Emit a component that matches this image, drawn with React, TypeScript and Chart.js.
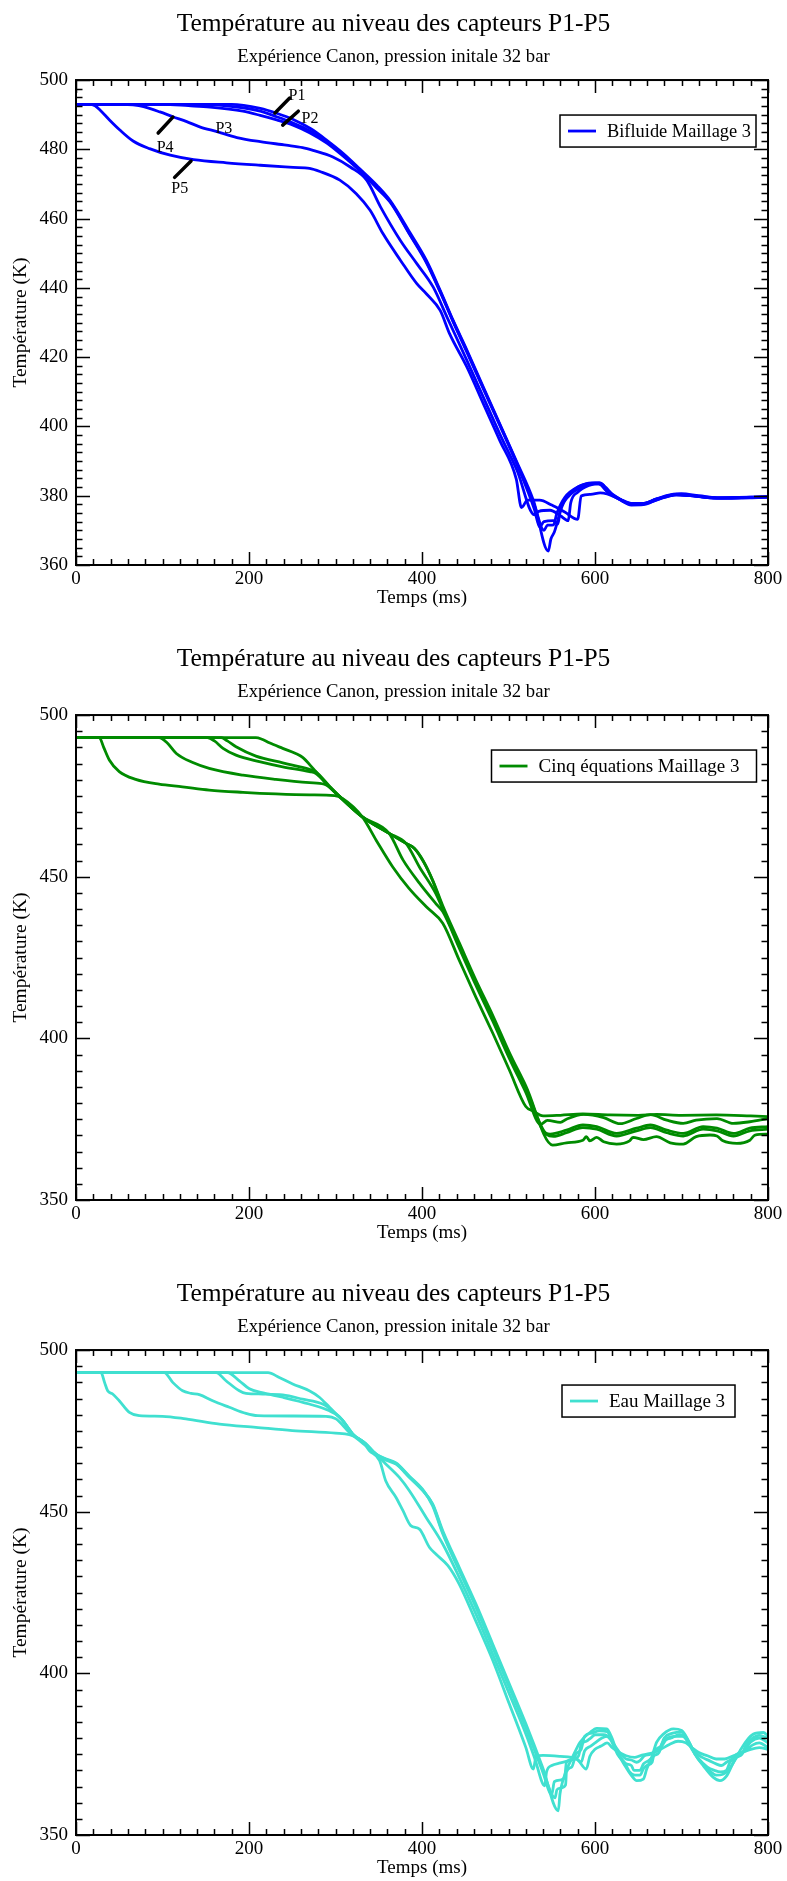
import React, { useEffect, useRef } from 'react';
import { Chart, registerables } from 'chart.js';

Chart.register(...registerables);

type Pt = [number, number];

const FONT = "'Liberation Serif', 'Times New Roman', Times, serif";

const TITLE = 'Température au niveau des capteurs P1-P5';
const SUBTITLE = 'Expérience Canon, pression initale 32 bar';
const X_TITLE = 'Temps (ms)';
const Y_TITLE = 'Température (K)';
const SENSOR_LABELS = ['P1', 'P2', 'P3', 'P4', 'P5'];

// ---------- Chart 1 : Bifluide Maillage 3 ----------
const bifP1: Pt[] = [[0,493],[180,493],[213,491.8],[232,490.4],[251,488.6],[271,486],[290,482.6],[309,478.8],[328,474.4],[348,469.6],[363,465.3],[386,456],[405,448],[421,439.3],[436,430.6],[452,422],[471,411.3],[490,400.7],[509,390.1],[529,378.5],[546,364],[549,367.5],[553,369.5],[562,377],[575,381.5],[590,383.5],[605,383.8],[612,382.5],[620,380.5],[635,378.2],[650,377.5],[662,378],[680,379.5],[700,380.6],[720,380],[750,379.3],[780,379.6],[800,379.7]];
const bifP2: Pt[] = [[0,493],[140,493],[193,492],[213,491],[232,489.4],[251,487.6],[270,485.4],[290,482.2],[309,478.3],[328,474],[347,469.2],[363,465],[386,455.5],[405,447.6],[421,439],[436,430.4],[452,421.7],[471,411],[490,400.5],[509,389.8],[530,377.2],[541,370],[545,371.5],[552,371.6],[556,375],[565,379.5],[580,382.5],[600,383.6],[608,383.4],[614,381.5],[629,379],[642,377.6],[656,377.7],[671,379.1],[694,380.5],[710,380.1],[741,379.4],[779,379.6],[800,379.6]];
const bifP3: Pt[] = [[0,493],[100,493],[130,492.6],[155,492.2],[193,491],[213,489.8],[232,488.5],[251,487],[270,484.8],[290,481.8],[309,478],[328,473.8],[347,469],[363,464.8],[386,455.3],[405,447.3],[421,438.8],[436,430.2],[452,421.4],[471,410.8],[490,400.3],[509,389.5],[530,376],[536,371],[541,372.5],[552,372.8],[557,371.8],[560,376],[570,380],[585,382.5],[600,383.4],[608,383.2],[614,381.3],[629,378.9],[642,377.5],[656,377.6],[671,379],[694,380.4],[710,380.1],[741,379.3],[779,379.5],[800,379.6]];
const bifP4: Pt[] = [[0,493],[55,493],[66,492.8],[78,492.3],[97,490.8],[112,489.4],[128,488],[143,486.5],[163,485.1],[186,483.4],[213,482.2],[243,481.2],[262,480.5],[274,479.7],[297,477.8],[317,474.9],[336,471.1],[352,463.4],[375,453.7],[394,447],[413,440.2],[429,431.5],[452,419],[471,408.4],[490,397.8],[510,387.2],[530,374.5],[535,375.5],[548,375.8],[560,374.2],[569,372.8],[572,378],[580,381],[593,383],[604,383.5],[614,381.2],[629,378.8],[642,377.3],[656,377.4],[671,378.8],[694,380.4],[710,380],[741,379.4],[779,379.5],[800,379.7]];
const bifP5: Pt[] = [[0,493],[15,493],[22,492.6],[28,491.3],[39,488.4],[51,485.5],[66,482.4],[85,480.2],[109,478.3],[136,477],[174,476.1],[213,475.4],[251,474.8],[270,474.5],[282,473.6],[305,471.1],[324,467.2],[340,462.4],[355,455.6],[375,448],[394,441.2],[405,438.3],[421,433.5],[432,426.7],[452,417.1],[471,406.5],[490,395.9],[509,384.8],[515,376.6],[522,378.7],[536,378.7],[550,377.3],[565,375.3],[580,373.2],[584,379.9],[595,380.4],[606,380.8],[614,380.5],[629,379],[642,377.8],[656,377.8],[671,379],[694,380.2],[710,380],[741,379.3],[779,379.4],[800,379.6]];

// ---------- Chart 2 : Cinq équations Maillage 3 ----------
const cinqP1: Pt[] = [[0,493],[208,493],[215,492.5],[223.5,491.4],[239,489.7],[254,488.1],[262,486.9],[274,483.5],[289,478.9],[304,474.9],[331,468.5],[362,463.4],[381.5,460.3],[391,458.8],[402,454.5],[413,448.5],[424,441],[443,429.6],[462,418.2],[482,407],[501,395.6],[520,385.3],[551,367],[567,367.7],[586,368.5],[590,369.6],[594,368.3],[602,369.4],[610,368],[625,367.3],[640,368.3],[644,369.4],[656,368.7],[671,369.6],[687,367.7],[702,367.3],[717,369.6],[733,370.1],[741,369.8],[748,368.3],[764,367.5],[779,368.5],[785,370.1],[800,370.4]];
const cinqP2: Pt[] = [[0,493],[168,493],[175,492],[185,490.2],[208,487.3],[239,485.2],[270,483.2],[277,482.5],[293,478],[304,475],[331,468.5],[362,463.4],[381.5,460.3],[391,458.8],[401,455.1],[412,449],[424,440.4],[443,429],[462,417.6],[482,406.3],[501,395],[520,384.6],[544,370.3],[552,369.7],[567,370.8],[586,372.4],[602,371.9],[625,369.8],[648,371.4],[664,372.4],[683,370.8],[702,369.8],[725,371.9],[741,371.4],[760,369.8],[779,371.4],[800,371.9]];
const cinqP3: Pt[] = [[0,493],[152,493],[160,492],[170,489.7],[185,487.6],[212,485.6],[239,484],[270,482.5],[277,482],[293,477.8],[304,475],[331,468.5],[362,463.4],[381.5,460.3],[397,453],[416,444.8],[424,440],[443,428.6],[462,417.2],[482,405.8],[501,394.4],[520,384],[540,371.5],[548,370.4],[567,371.6],[586,373.2],[602,372.7],[625,370.6],[648,372.2],[664,373.2],[683,371.6],[702,370.6],[725,372.7],[741,372.2],[760,370.6],[779,372.2],[800,372.7]];
const cinqP4: Pt[] = [[0,493],[96,493],[105,491.5],[116,488.1],[135,485.3],[154,483.5],[193,481.4],[231,480.1],[270,479.1],[287,478.6],[304,475],[331,468.5],[362,463.4],[378,455.2],[397,448],[416,441.7],[424,439.2],[443,428],[462,416.6],[482,405.2],[501,393.8],[520,383.3],[537,373.4],[545,374.6],[560,374],[567,375],[587,376.5],[610,375.5],[629,373.6],[648,375.2],[664,376.4],[683,374.7],[702,373.7],[717,374.7],[741,375.2],[760,373.7],[779,374.2],[800,375.2]];
const cinqP5: Pt[] = [[0,493],[27,493],[32,490],[38.5,486.1],[50,482.5],[69,480.1],[96,478.6],[123,477.8],[154,476.8],[193,476.1],[231,475.6],[270,475.3],[299,475.1],[308,474.2],[331,468.5],[347,461.3],[366,453.1],[385,446.4],[405,440.7],[424,435.6],[443,424.2],[462,412.9],[482,401.5],[501,390.2],[520,378.9],[528,377.6],[540,376],[560,376.2],[586,376.6],[617,376.3],[650,376.2],[671,376.5],[700,376.2],[740,376.3],[780,376],[800,375.8]];

// ---------- Chart 3 : Eau Maillage 3 ----------
const eauP1: Pt[] = [[0,493],[222,493],[235,491.5],[250.5,489.5],[269.7,487.4],[281.3,485.4],[293,482.3],[304.4,479.2],[308.3,478.2],[320,474],[335,471],[346.8,467.8],[358,466],[370,464.7],[385.4,460.6],[400.8,456.5],[412.3,452.4],[424,444.1],[443,432.8],[462.4,421.4],[481.7,409.1],[501,396.7],[520.2,384.3],[539.5,370.9],[557.6,357.5],[559.5,362.7],[563.4,367.3],[569.2,371.4],[573,373.5],[582.7,378.7],[594.2,381.7],[602,383],[613.5,382.8],[619.3,380.2],[625,376.1],[634.7,371.4],[642.4,368.3],[648.2,366.8],[655.9,367.3],[659.8,370.4],[665.5,374],[671.3,378.7],[679,381.2],[690.6,382.8],[700.2,382.3],[708,379.2],[715.6,375],[725.3,371.4],[736.8,367.8],[744.5,366.8],[752.2,368.3],[760,372.5],[767.7,376.1],[775.4,379.2],[783.1,381.2],[794.6,381.7],[800,380.7]];
const eauP2: Pt[] = [[0,493],[175,493],[188.8,490.5],[200.4,488],[215,486.8],[239,485.4],[269.7,483.3],[293,481.2],[304,479.5],[308.3,478.2],[320,474],[335,471],[346.8,467.8],[358,466.2],[370,464.9],[385.4,460.8],[400.8,456.7],[412.3,452.2],[424,443.6],[443,432.2],[462.4,420.8],[481.7,408.5],[501,396],[520.2,383.6],[539.5,370.2],[553.8,361.5],[556,364],[560,364.5],[566,365.5],[567,369.5],[573,371],[578,375],[584,376.5],[588,380.5],[596,381.5],[605,382.2],[614,382],[620,379],[626,375.5],[636,371.5],[640,369.5],[646,368.5],[652,368.5],[656,370.5],[660,371.5],[666,372.5],[669,376],[676,377.5],[680,380],[690,381.5],[700,381.8],[708,379],[716,375],[724,372],[734,369.5],[740,368.5],[748,368.8],[754,370],[758,371.5],[764,374],[770,375],[774,377.5],[780,379.5],[790,380.8],[800,380]];
const eauP3: Pt[] = [[0,493],[162,493],[173.4,490.5],[188.8,487.4],[196.5,486.6],[215.8,486.4],[239,486.1],[262,484.8],[285,483.3],[296.7,481.2],[308.3,478.2],[320,474],[335,471],[346.8,467.8],[358,466.4],[370,465.1],[385.4,461],[400.8,456.9],[412.3,451.8],[424,443.2],[443,431.8],[462.4,420.4],[481.7,408],[501,395.6],[520.2,383.2],[539.5,369.6],[550,362.5],[553,366.5],[560,367],[565,368],[567,372.5],[575,373.5],[581,374.5],[584,378],[590,379],[595,380],[600,381],[610,381],[618,379.5],[626,375],[632,373],[636,372],[642,371.5],[645,370],[652,370],[656,372],[662,373],[668,374.5],[674,375.5],[678,378.5],[688,380],[698,381],[706,379.5],[712,376.5],[720,373.5],[730,371],[738,370],[745,369.5],[752,370],[756,372.5],[762,374],[768,375],[774,376.5],[780,378.8],[790,380],[800,378.5]];
const eauP4: Pt[] = [[0,493],[102,493],[111.8,490],[123.3,487.4],[133,486.6],[142.6,486.2],[158,484.3],[177.3,482.3],[196.5,480.4],[210,479.7],[250.5,479.6],[289,479.5],[300.6,478.7],[316,474.5],[330,471.5],[346.8,467.8],[358.4,464.7],[373.8,460.6],[385.4,456.5],[404.6,448.3],[424,440],[443,429.7],[462.4,418.3],[481.7,406],[501,393.6],[520.2,381.2],[530,374],[542,365.2],[544,369.5],[550,371.5],[560,372.3],[570,373],[578,373.5],[584,372.5],[588,376],[595,377.5],[600,378.5],[608,380],[615,380.5],[622,378],[630,375],[636,373.5],[642,373.2],[648,372.5],[652,373],[657,374.5],[664,375],[670,376],[676,377],[683,379.8],[692,380.5],[702,380.5],[708,378.5],[716,375.5],[724,374],[732,373],[740,372],[746,371.5],[752,372.5],[758,373.5],[764,375],[770,375.5],[776,376.5],[782,377.8],[790,378.5],[800,377]];
const eauP5: Pt[] = [[0,493],[29,493],[33,490],[36.6,487.4],[42.4,486.4],[50,484.3],[61.7,480.7],[73,479.7],[100,479.5],[127,478.7],[166,477.1],[208,476.1],[250,475.1],[300,474.3],[316,473.8],[331,471.8],[339,468.9],[351,465.8],[358,459.6],[370,454.4],[378,450.3],[387,445.7],[397,444.6],[408.5,439],[416,436.9],[430,433.3],[443,427.6],[462,416.3],[482,403.9],[501,390.5],[520,377.1],[528.7,370.4],[532,374.3],[540,374.6],[560,374.3],[579,373.5],[590,370.4],[594,374.3],[600,376.5],[607,377.5],[614,378.5],[620,377],[628,375.5],[636,374.5],[646,374],[652,374.5],[660,375],[668,375.5],[676,376.5],[686,378],[696,379],[705,378.5],[712,377],[720,375.5],[730,374.5],[740,373.5],[750,373.5],[760,374.5],[770,375.5],[780,376.5],[790,377],[800,376.5]];

// ---------- P1..P5 annotations on chart 1 (data coordinates) ----------
const annotText = ['P1', 'P2', 'P3', 'P4', 'P5'];
const annotTextX = [255.5, 270.5, 171, 103, 120];
const annotTextY = [495.4, 488.7, 485.8, 480.3, 468.5];
const annotPointers: ([number, number, number, number] | null)[] = [
  [230, 490.5, 247, 494.8],
  [239, 487.0, 257, 491.0],
  null,
  [95, 484.7, 112, 489.3],
  [114, 471.9, 133, 476.6],
];

type Spec = {
  series: Pt[][];
  color: string;
  legendText: string;
  legendLeft: number;
  legendWidth: number;
  yMin: number;
  yMax: number;
  yMajor: number;
  yMinor: number;
  top: number;
  height: number;
  annotate: boolean;
};

const specs: Spec[] = [
  { series: [bifP1, bifP2, bifP3, bifP4, bifP5], color: '#0000ff', legendText: 'Bifluide Maillage 3', legendLeft: 484, legendWidth: 196, yMin: 360, yMax: 500, yMajor: 20, yMinor: 2.5, top: 0, height: 635, annotate: true },
  { series: [cinqP1, cinqP2, cinqP3, cinqP4, cinqP5], color: '#008b00', legendText: 'Cinq équations Maillage 3', legendLeft: 415.5, legendWidth: 265, yMin: 350, yMax: 500, yMajor: 50, yMinor: 5, top: 635, height: 635, annotate: false },
  { series: [eauP1, eauP2, eauP3, eauP4, eauP5], color: '#40e0d0', legendText: 'Eau Maillage 3', legendLeft: 486, legendWidth: 173, yMin: 350, yMax: 500, yMajor: 50, yMinor: 5, top: 1270, height: 611, annotate: false },
];

const framePlugin = {
  id: 'frame',
  afterDatasetsDraw(chart: any) {
    const o = chart.options.plugins.frame;
    const { ctx, chartArea } = chart;
    const { left, right, top, bottom } = chartArea;
    const xs = chart.scales.x;
    const ys = chart.scales.y;
    ctx.save();
    ctx.strokeStyle = '#000';
    ctx.lineWidth = 1.5;
    ctx.beginPath();
    for (let i = 0; ; i++) {
      const v = o.xMin + i * o.xMinor;
      if (v > o.xMax + 1e-6) break;
      const r = (v - o.xMin) / o.xMajor;
      const major = Math.abs(r - Math.round(r)) < 1e-6;
      const len = major ? 13 : 6;
      const px = Math.round(xs.getPixelForValue(v)) + 0.5;
      ctx.moveTo(px, bottom); ctx.lineTo(px, bottom - len);
      ctx.moveTo(px, top); ctx.lineTo(px, top + len);
    }
    for (let i = 0; ; i++) {
      const v = o.yMin + i * o.yMinor;
      if (v > o.yMax + 1e-6) break;
      const r = (v - o.yMin) / o.yMajor;
      const major = Math.abs(r - Math.round(r)) < 1e-6;
      const len = major ? 14 : 6.5;
      const py = Math.round(ys.getPixelForValue(v)) + 0.5;
      ctx.moveTo(left, py); ctx.lineTo(left + len, py);
      ctx.moveTo(right, py); ctx.lineTo(right - len, py);
    }
    ctx.stroke();
    ctx.lineWidth = 2;
    ctx.strokeRect(left, top, right - left, bottom - top);
    ctx.restore();
  },
};

const legendPlugin = {
  id: 'boxLegend',
  afterDraw(chart: any) {
    const o = chart.options.plugins.boxLegend;
    const { ctx, chartArea } = chart;
    ctx.save();
    ctx.font = `19px ${FONT}`;
    const left = chartArea.left + o.left;
    const top = chartArea.top + 35;
    const h = 32;
    const w = o.width;
    ctx.fillStyle = '#fff';
    ctx.fillRect(left, top, w, h);
    ctx.strokeStyle = '#000';
    ctx.lineWidth = 1.5;
    ctx.strokeRect(left, top, w, h);
    ctx.strokeStyle = o.color;
    ctx.lineWidth = 2.8;
    ctx.beginPath();
    ctx.moveTo(left + 8, top + h / 2);
    ctx.lineTo(left + 36, top + h / 2);
    ctx.stroke();
    ctx.fillStyle = '#000';
    ctx.textAlign = 'left';
    ctx.textBaseline = 'middle';
    const textX = left + 47;
    const maxW = left + w - 5 - textX;
    const tw = ctx.measureText(o.text).width;
    if (tw > maxW) {
      ctx.fillText(o.text, textX, top + h / 2 + 1, maxW);
    } else {
      ctx.fillText(o.text, textX, top + h / 2 + 1);
    }
    ctx.restore();
  },
};

const annotPlugin = {
  id: 'pAnnot',
  afterDatasetsDraw(chart: any) {
    const o = chart.options.plugins.pAnnot;
    if (!o || !o.enabled) return;
    const { ctx } = chart;
    const xs = chart.scales.x;
    const ys = chart.scales.y;
    ctx.save();
    ctx.fillStyle = '#000';
    ctx.strokeStyle = '#000';
    ctx.lineCap = 'round';
    ctx.lineWidth = 3.5;
    ctx.font = `16px ${FONT}`;
    ctx.textAlign = 'center';
    ctx.textBaseline = 'middle';
    annotText.forEach((t, i) => {
      ctx.fillText(t, xs.getPixelForValue(annotTextX[i]), ys.getPixelForValue(annotTextY[i]));
      const p = annotPointers[i];
      if (p) {
        ctx.beginPath();
        ctx.moveTo(xs.getPixelForValue(p[0]), ys.getPixelForValue(p[1]));
        ctx.lineTo(xs.getPixelForValue(p[2]), ys.getPixelForValue(p[3]));
        ctx.stroke();
      }
    });
    ctx.restore();
  },
};

function TempChart({ spec }: { spec: Spec }) {
  const ref = useRef<HTMLCanvasElement>(null);
  useEffect(() => {
    const canvas = ref.current;
    if (!canvas) return;
    const chart = new Chart(canvas, {
      type: 'line',
      data: {
        datasets: spec.series.map((s, i) => ({
          label: SENSOR_LABELS[i],
          data: s.map(([x, y]) => ({ x, y })),
          borderColor: spec.color,
          backgroundColor: spec.color,
          borderWidth: 2.8,
          pointRadius: 0,
          fill: false,
          cubicInterpolationMode: 'monotone' as const,
        })),
      },
      plugins: [framePlugin, legendPlugin, annotPlugin],
      options: {
        animation: false,
        responsive: false,
        events: [],
        layout: { padding: { left: 0, right: 0, top: 0, bottom: spec.height - 565 - 46 } },
        plugins: {
          legend: { display: false },
          tooltip: { enabled: false },
          title: {
            display: true,
            text: TITLE,
            color: '#000',
            font: { family: FONT, size: 25.5, weight: 'normal' },
            padding: { top: 9.1, bottom: 0 },
          },
          subtitle: {
            display: true,
            text: SUBTITLE,
            color: '#000',
            font: { family: FONT, size: 18.7, weight: 'normal' },
            padding: { top: 6, bottom: 11.9 },
          },
          frame: { xMin: 0, xMax: 800, xMajor: 200, xMinor: 20, yMin: spec.yMin, yMax: spec.yMax, yMajor: spec.yMajor, yMinor: spec.yMinor },
          boxLegend: { text: spec.legendText, color: spec.color, left: spec.legendLeft, width: spec.legendWidth },
          pAnnot: { enabled: spec.annotate },
        } as any,
        scales: {
          x: {
            type: 'linear',
            min: 0,
            max: 800,
            grid: { display: false, drawTicks: false },
            border: { display: false },
            ticks: { stepSize: 200, color: '#000', font: { family: FONT, size: 19 }, padding: 2.5, maxRotation: 0, autoSkip: false },
            title: { display: true, text: X_TITLE, color: '#000', font: { family: FONT, size: 19 }, padding: { top: 0, bottom: 1.5 } },
            afterFit: (axis: any) => { axis.height = 46; },
          },
          y: {
            type: 'linear',
            position: 'left',
            min: spec.yMin,
            max: spec.yMax,
            grid: { display: false, drawTicks: false },
            border: { display: false },
            ticks: { stepSize: spec.yMajor, color: '#000', font: { family: FONT, size: 19 }, padding: 8 },
            title: { display: true, text: Y_TITLE, color: '#000', font: { family: FONT, size: 19.5 }, padding: { top: 9.6, bottom: 0 } },
            afterFit: (axis: any) => { axis.width = 76; },
          },
          yRight: {
            type: 'linear',
            position: 'right',
            min: spec.yMin,
            max: spec.yMax,
            grid: { display: false, drawTicks: false },
            border: { display: false },
            ticks: { display: false },
            title: { display: false },
            afterFit: (axis: any) => { axis.width = 19; },
          },
        },
      } as any,
    });
    return () => chart.destroy();
  }, [spec]);
  return (
    <div style={{ position: 'absolute', left: 0, top: spec.top, width: 787, height: spec.height }}>
      <canvas ref={ref} width={787} height={spec.height} style={{ display: 'block', width: 787, height: spec.height }} />
    </div>
  );
}

export default function App() {
  return (
    <div style={{ position: 'absolute', left: 0, top: 0, width: 787, height: 1881, background: '#fff', overflow: 'hidden' }}>
      {specs.map((s, i) => (
        <TempChart key={i} spec={s} />
      ))}
    </div>
  );
}
